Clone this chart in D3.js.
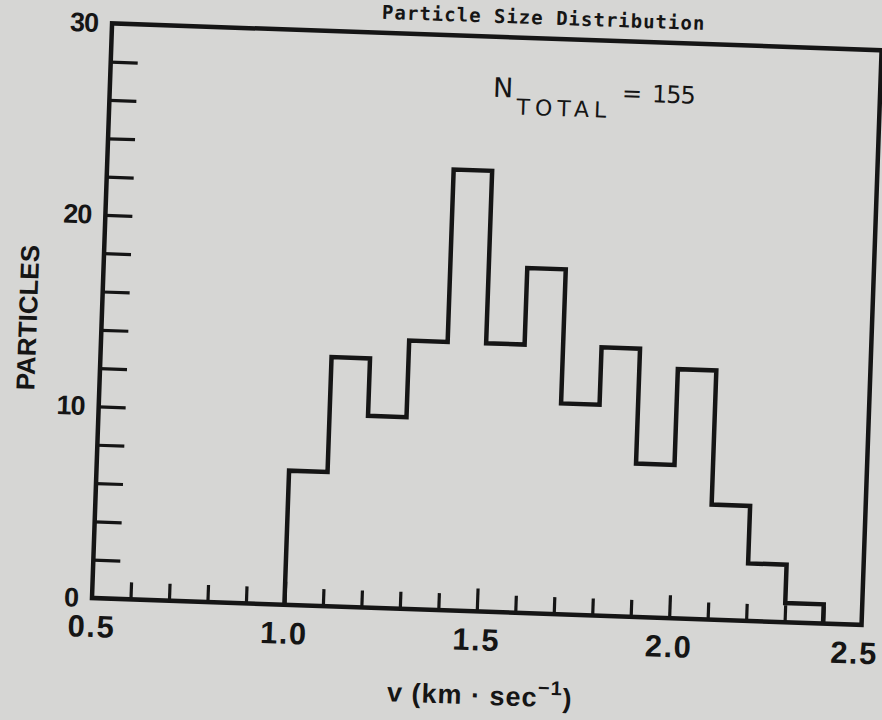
<!DOCTYPE html>
<html>
<head>
    <script src="https://d3js.org/d3.v7.min.js" charset="utf-8"></script>
    <style>
        body { margin: 0; background: #d6d6d4; }
        svg { display: block; }
        text { fill: #151515; }
        .axis path.domain { stroke: none; }
        .axis line { stroke: #151515; stroke-width: 3.2; }
        .lbl text { font-family: "Liberation Sans", sans-serif; font-weight: bold; }
    </style>
</head>
<body>
<script>
    // particle counts per 0.1 km/s bin
    var binStarts = [1.0, 1.1, 1.2, 1.3, 1.4, 1.5, 1.6, 1.7, 1.8, 1.9, 2.0, 2.1, 2.2, 2.3];
    var counts = [7, 13, 10, 14, 23, 14, 18, 11, 14, 8, 13, 6, 3, 1];
    var binWidth = 0.1;
    var xLabels = [0.5, 1.0, 1.5, 2.0, 2.5];
    var xMajor = [1.0, 1.5, 2.0];
    var xMinor = [0.6, 0.7, 0.8, 0.9, 1.1, 1.2, 1.3, 1.4, 1.6, 1.7, 1.8, 1.9, 2.1, 2.2, 2.3, 2.4];
    var yLabels = [0, 10, 20, 30];
    var yMinor = [2, 4, 6, 8, 10, 12, 14, 16, 18, 20, 22, 24, 26, 28];
    var nTotal = 155;

    var margin = { top: 23, left: 92 },
        width = 770,
        height = 575;

    var svg = d3.select("body")
        .append("svg")
        .attr("width", 882)
        .attr("height", 720);

    svg.append("rect")
        .attr("width", 882)
        .attr("height", 720)
        .attr("fill", "#d6d6d4");

    // the scanned page sits about 2 degrees clockwise
    var g = svg.append("g")
        .attr("transform", "translate(" + margin.left + "," + margin.top + ") rotate(2,0," + height + ")");

    var x = d3.scaleLinear().domain([0.5, 2.5]).range([0, width]);
    var y = d3.scaleLinear().domain([0, 30]).range([height, 0]);

    // title, squeezed against the top edge as on the scan
    g.append("text")
        .attr("x", x(2.04))
        .attr("y", -14)
        .attr("text-anchor", "end")
        .style("font-family", "DejaVu Sans Mono")
        .style("font-weight", "bold")
        .style("font-size", "19px")
        .attr("letter-spacing", 1)
        .text("Particle Size Distribution");

    // inward ticks
    g.append("g").attr("class", "axis")
        .attr("transform", "translate(0," + height + ")")
        .call(d3.axisBottom(x).tickValues(xMinor).tickSize(-17).tickFormat(""));
    g.append("g").attr("class", "axis")
        .attr("transform", "translate(0," + height + ")")
        .call(d3.axisBottom(x).tickValues(xMajor).tickSize(-23).tickFormat(""));
    g.append("g").attr("class", "axis")
        .call(d3.axisLeft(y).tickValues(yMinor).tickSize(-27).tickFormat(""));

    // tick labels
    var xl = g.append("g").attr("class", "axis lbl")
        .attr("transform", "translate(0," + height + ")")
        .call(d3.axisBottom(x).tickValues(xLabels).tickSize(0).tickPadding(17).tickFormat(d3.format(".1f")));
    xl.selectAll("text")
        .style("font-size", "31px")
        .attr("letter-spacing", 1.5)
        .attr("dx", function (d) { return d === 2.5 ? -7 : 0; });

    var yl = g.append("g").attr("class", "axis lbl")
        .call(d3.axisLeft(y).tickValues(yLabels).tickSize(0).tickPadding(14));
    yl.selectAll("text").style("font-size", "27px").attr("letter-spacing", -1);

    // frame
    g.append("rect")
        .attr("x", x(0.5))
        .attr("y", y(30))
        .attr("width", x(2.5) - x(0.5))
        .attr("height", y(0) - y(30))
        .attr("fill", "none")
        .attr("stroke", "#151515")
        .attr("stroke-width", 4.5);

    // histogram outline
    var pts = [[binStarts[0], 0]]
        .concat(binStarts.map(function (b, i) { return [b, counts[i]]; }))
        .concat([[binStarts[binStarts.length - 1] + binWidth, 0]]);

    var line = d3.line()
        .x(function (d) { return x(d[0]); })
        .y(function (d) { return y(d[1]); })
        .curve(d3.curveStepAfter);

    g.append("path")
        .datum(pts)
        .attr("d", line)
        .attr("fill", "none")
        .attr("stroke", "#151515")
        .attr("stroke-width", 4.5)
        .attr("stroke-linejoin", "miter");

    // N_TOTAL = 155
    var nt = g.append("text")
        .attr("x", 383)
        .attr("y", 60)
        .style("font-family", "DejaVu Sans")
        .style("font-size", "27px");
    nt.append("tspan").text("N");
    nt.append("tspan").attr("dy", 17).attr("dx", 4).style("font-size", "22px").attr("letter-spacing", 5).text("TOTAL");
    nt.append("tspan").attr("dy", -17).attr("dx", 10).style("font-size", "24px").text("=");
    nt.append("tspan").attr("dx", 10).style("font-size", "24px").attr("letter-spacing", -1).text(nTotal);

    // axis titles
    g.append("text")
        .attr("transform", "translate(-74," + 297 + ") rotate(-90)")
        .attr("text-anchor", "middle")
        .attr("dy", "0.35em")
        .style("font-family", "Liberation Sans")
        .style("font-weight", "bold")
        .style("font-size", "26px")
        .text("PARTICLES");

    var xt = g.append("text")
        .attr("x", 391)
        .attr("y", height + 93)
        .attr("text-anchor", "middle")
        .style("font-family", "Liberation Sans")
        .style("font-weight", "bold")
        .style("font-size", "27px")
        .attr("letter-spacing", 1);
    xt.append("tspan").text("v (km \u00b7 sec");
    xt.append("tspan").attr("dy", -12).style("font-size", "20px").text("\u22121");
    xt.append("tspan").attr("dy", 12).text(")");
</script>
</body>
</html>
